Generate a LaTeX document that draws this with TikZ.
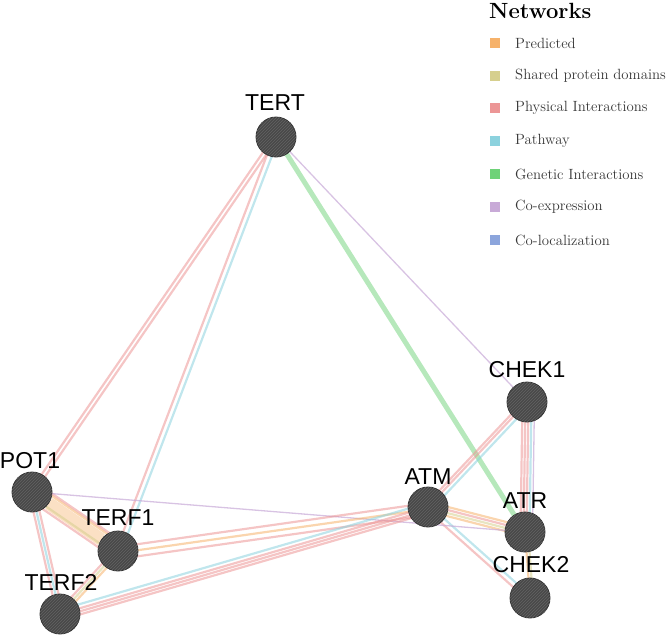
\documentclass[tikz,border=0pt]{standalone}
\usepackage{fontspec}
\newfontfamily\labfont{Liberation Sans}
\usetikzlibrary{calc,backgrounds,patterns}
\definecolor{cpred}{RGB}{246,178,107}
\definecolor{cshared}{RGB}{214,207,142}
\definecolor{cphys}{RGB}{236,150,150}
\definecolor{cpath}{RGB}{140,210,222}
\definecolor{cgen}{RGB}{110,210,120}
\definecolor{ccoexp}{RGB}{200,170,215}
\definecolor{ccoloc}{RGB}{140,165,220}
\definecolor{nodefill}{RGB}{72,72,72}
\definecolor{nodehatch}{RGB}{100,100,100}
\definecolor{legtext}{RGB}{55,55,55}
\newcommand\edg[4]{\draw[#1] ($(#2)!#4!90:(#3)$) -- ($(#3)!#4!-90:(#2)$);}
\tikzset{
  gene/.style={circle, minimum size=40pt, inner sep=0pt, fill=nodefill, draw=black!80, line width=0.8pt,
    postaction={pattern=north east lines, pattern color=nodehatch}},
  glabel/.style={font=\labfont\fontsize{23}{26}\selectfont, inner sep=0pt},
  legbox/.style={minimum size=10pt, inner sep=0pt},
  legtxt/.style={anchor=west, inner sep=0pt, text=legtext, font=\fontsize{14.8}{17}\selectfont},
  ebase/.style={line width=2.2pt, opacity=0.55},
  phys/.style={ebase, draw=cphys},
  path/.style={ebase, draw=cpath},
  pred/.style={ebase, draw=cpred},
  shared/.style={ebase, draw=cshared},
  gen/.style={line width=5pt, opacity=0.5, draw=cgen},
  coexp/.style={line width=1.3pt, opacity=0.7, draw=ccoexp},
}
\begin{document}
\begin{tikzpicture}[x=1pt,y=-1pt]
\useasboundingbox (0,0) rectangle (668,637);
% genes
\node[gene] (TERT) at (276,137) {};
\node[gene] (CHEK1) at (527,402) {};
\node[gene] (POT1) at (32,492) {};
\node[gene] (TERF1) at (118,551) {};
\node[gene] (TERF2) at (60,614) {};
\node[gene] (ATM) at (428,507) {};
\node[gene] (ATR) at (525,532) {};
\node[gene] (CHEK2) at (530,598) {};
% labels
\node[glabel] (lTERT) at (275,103) {TERT};
\node[glabel] (lCHEK1) at (527,370) {CHEK1};
\node[glabel] (lPOT1) at (30,461) {POT1};
\node[glabel] (lTERF1) at (118,518) {TERF1};
\node[glabel] (lTERF2) at (61,582) {TERF2};
\node[glabel] (lATM) at (428,477) {ATM};
\node[glabel] (lATR) at (525,501) {ATR};
\node[glabel] (lCHEK2) at (531,565) {CHEK2};
% edges
\begin{pgfonlayer}{background}
\edg{phys}{TERT}{POT1}{-2pt}
\edg{phys}{TERT}{POT1}{2pt}
\edg{phys}{TERT}{TERF1}{-2pt}
\edg{path}{TERT}{TERF1}{3pt}
\edg{coexp}{TERT}{CHEK1}{0pt}
\edg{gen}{TERT}{ATR}{0pt}
\edg{phys}{CHEK1}{ATM}{-3pt}
\edg{phys}{CHEK1}{ATM}{0pt}
\edg{path}{CHEK1}{ATM}{4pt}
\edg{phys}{CHEK1}{ATR}{-4.5pt}
\edg{phys}{CHEK1}{ATR}{-1.5pt}
\edg{phys}{CHEK1}{ATR}{1.5pt}
\edg{path}{CHEK1}{ATR}{4.5pt}
\edg{coexp}{CHEK1}{ATR}{7.5pt}
\edg{pred}{ATM}{ATR}{-4pt}
\edg{shared}{ATM}{ATR}{-1pt}
\edg{phys}{ATM}{ATR}{2pt}
\edg{pred}{ATM}{ATR}{5pt}
\edg{phys}{ATM}{CHEK2}{-3pt}
\edg{path}{ATM}{CHEK2}{2pt}
\edg{pred}{ATR}{CHEK2}{0pt}
\edg{shared}{ATR}{CHEK2}{3pt}
\draw[pred, line width=13pt, opacity=0.4] (POT1) -- (TERF1);
\edg{pred}{POT1}{TERF1}{8pt}
\edg{shared}{POT1}{TERF1}{-4pt}
\edg{phys}{POT1}{TERF1}{-8pt}
\edg{phys}{POT1}{TERF1}{10pt}
\edg{phys}{POT1}{TERF2}{-3pt}
\edg{path}{POT1}{TERF2}{0pt}
\edg{phys}{POT1}{TERF2}{3pt}
\edg{shared}{TERF1}{TERF2}{0pt}
\edg{pred}{TERF1}{TERF2}{3pt}
\edg{phys}{TERF1}{TERF2}{-3pt}
\edg{coexp}{POT1}{ATR}{0pt}
\edg{phys}{TERF1}{ATM}{-8pt}
\edg{pred}{TERF1}{ATM}{-2pt}
\edg{phys}{TERF1}{ATM}{4pt}
\edg{phys}{TERF2}{ATM}{-6pt}
\edg{phys}{TERF2}{ATM}{-3pt}
\edg{phys}{TERF2}{ATM}{0pt}
\edg{path}{TERF2}{ATM}{4pt}
\end{pgfonlayer}
% legend
\node[anchor=west, inner sep=0pt, font=\bfseries\fontsize{22}{25}\selectfont] (legtitle) at (489,11) {Networks};
\node[legbox, fill=cpred] (b1) at (495,43) {};
\node[legtxt] (t1) at (515,43) {Predicted};
\node[legbox, fill=cshared] (b2) at (495,76) {};
\node[legtxt] (t2) at (515,76) {Shared protein domains};
\node[legbox, fill=cphys] (b3) at (495,108) {};
\node[legtxt] (t3) at (515,108) {Physical Interactions};
\node[legbox, fill=cpath] (b4) at (495,141) {};
\node[legtxt] (t4) at (515,141) {Pathway};
\node[legbox, fill=cgen] (b5) at (495,174) {};
\node[legtxt] (t5) at (515,174) {Genetic Interactions};
\node[legbox, fill=ccoexp] (b6) at (495,207) {};
\node[legtxt] (t6) at (515,207) {Co-expression};
\node[legbox, fill=ccoloc] (b7) at (495,240) {};
\node[legtxt] (t7) at (515,240) {Co-localization};
\end{tikzpicture}
\end{document}
